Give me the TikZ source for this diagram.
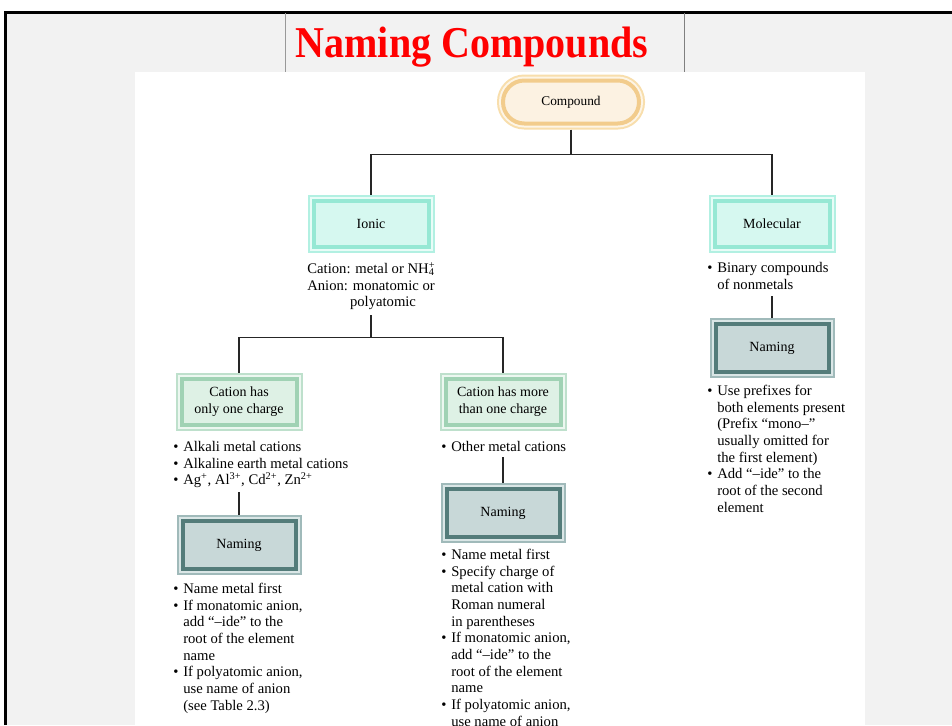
\documentclass[tikz,border=0pt]{standalone}
\usepackage{fontspec}
\setmainfont{Liberation Serif}
\definecolor{bggray}{RGB}{242,242,242}
\definecolor{cmpfill}{RGB}{252,242,226}
\definecolor{cmpdark}{RGB}{242,204,140}
\definecolor{cmplight}{RGB}{248,222,172}
\definecolor{cmpgap}{RGB}{253,245,230}
\definecolor{ionfill}{RGB}{214,248,240}
\definecolor{iondark}{RGB}{150,232,212}
\definecolor{ionlight}{RGB}{178,240,226}
\definecolor{iongap}{RGB}{232,252,247}
\definecolor{catfill}{RGB}{222,241,229}
\definecolor{catdark}{RGB}{160,210,180}
\definecolor{catlight}{RGB}{190,224,204}
\definecolor{catgap}{RGB}{236,247,240}
\definecolor{namfill}{RGB}{200,216,216}
\definecolor{namdark}{RGB}{84,124,122}
\definecolor{namlight}{RGB}{160,186,186}
\definecolor{namgap}{RGB}{218,230,230}
\newcommand{\bulpt}{\makebox[7.5pt][l]{\textbullet}}
\newcommand{\indpt}{\hspace*{7.5pt}}

\begin{document}
\begin{tikzpicture}[x=0.75pt,y=-0.75pt,
    box/.style={rectangle,inner sep=0pt,outer sep=4.5pt,align=center,
      font=\fontsize{10.5}{12.75}\selectfont,line width=3pt,
      minimum width=86.25pt,minimum height=34.5pt},
    ionbox/.style={box,fill=ionfill,draw=iondark,
      preaction={draw=ionlight,line width=9pt},preaction={draw=iongap,line width=6pt}},
    catbox/.style={box,fill=catfill,draw=catdark,
      preaction={draw=catlight,line width=9pt},preaction={draw=catgap,line width=6pt}},
    nambox/.style={box,minimum width=84.75pt,minimum height=36pt,fill=namfill,draw=namdark,
      preaction={draw=namlight,line width=9pt},preaction={draw=namgap,line width=6pt}},
    txt/.style={inner sep=0pt,align=left,font=\fontsize{11}{12.5}\selectfont},
    conn/.style={line width=1.2pt,black!85}]
  \useasboundingbox (0,0) rectangle (952,725);
  \clip (0,0) rectangle (952,725);
  % slide frame
  \fill[bggray] (5,12) rectangle (952,725);
  \draw[line width=2.25pt] (5,725)--(5,12)--(952,12);
  \draw[gray!80] (285,13)--(285,72);
  \draw[gray] (684,13)--(684,72);
  \node[anchor=base,text=red,font=\fontsize{33}{36}\selectfont\bfseries] (title) at (472,57)
    {\scalebox{0.91}[1]{Naming Compounds}};
  \fill[white] (135,72) rectangle (865,725);
  % boxes
  \node[box,minimum width=102pt,minimum height=32.25pt,rounded corners=16pt,
    font=\fontsize{10}{12}\selectfont,fill=cmpfill,draw=cmpdark,
    preaction={draw=cmplight,line width=9pt},preaction={draw=cmpgap,line width=6pt}]
    (cmp) at (571,102) {Compound};
  \node[ionbox] (ion) at (371,224) {Ionic};
  \node[ionbox] (mol) at (772,224) {Molecular};
  \node[catbox] (one) at (239,402) {Cation has\\only one charge};
  \node[catbox] (more) at (503,402) {Cation has more\\than one charge};
  \node[nambox] (nam1) at (239,545) {Naming};
  \node[nambox] (nam2) at (503,513) {Naming};
  \node[nambox] (nam3) at (772,348) {Naming};
  % texts
  \node[txt,align=center,anchor=north] (iontxt) at (371,262)
    {Cation: metal or NH\rlap{\textsuperscript{+}}\textsubscript{4}\\
     Anion: monatomic or\\\hspace*{18pt}polyatomic};
  \node[txt,anchor=north west] (onetxt) at (173,441)
    {\bulpt Alkali metal cations\\
     \bulpt Alkaline earth metal cations\\
     \bulpt Ag\textsuperscript{+}, Al\textsuperscript{3+}, Cd\textsuperscript{2+}, Zn\textsuperscript{2+}};
  \node[txt,anchor=north west] (moretxt) at (441,441) {\bulpt Other metal cations};
  \node[txt,anchor=north west] (moltxt) at (707,262)
    {\bulpt Binary compounds\\\indpt of nonmetals};
  \node[txt,anchor=north west] (nam1txt) at (173,583)
    {\bulpt Name metal first\\
     \bulpt If monatomic anion,\\\indpt add ``--ide'' to the\\\indpt root of the element\\\indpt name\\
     \bulpt If polyatomic anion,\\\indpt use name of anion\\\indpt (see Table 2.3)};
  \node[txt,anchor=north west] (nam2txt) at (441,549)
    {\bulpt Name metal first\\
     \bulpt Specify charge of\\\indpt metal cation with\\\indpt Roman numeral\\\indpt in parentheses\\
     \bulpt If monatomic anion,\\\indpt add ``--ide'' to the\\\indpt root of the element\\\indpt name\\
     \bulpt If polyatomic anion,\\\indpt use name of anion};
  \node[txt,anchor=north west] (nam3txt) at (707,385)
    {\bulpt Use prefixes for\\\indpt both elements present\\\indpt (Prefix ``mono--''\\
     \indpt usually omitted for\\\indpt the first element)\\
     \bulpt Add ``--ide'' to the\\\indpt root of the second\\\indpt element};
  % connectors
  \draw[conn] (cmp.south)--++(0,25) coordinate (j1) -| (ion.north);
  \draw[conn] (j1) -| (mol.north);
  \draw[conn] ([yshift=-4pt]iontxt.south)--++(0,22) coordinate (j2) -| (one.north);
  \draw[conn] (j2) -| (more.north);
  \draw[conn,shorten >=3pt] (nam1.north)--(nam1.north |- onetxt.south);
  \draw[conn,shorten >=4pt] (nam2.north)--(nam2.north |- moretxt.south);
  \draw[conn,shorten >=5pt] (nam3.north)--(nam3.north |- moltxt.south);
\end{tikzpicture}
\end{document}
